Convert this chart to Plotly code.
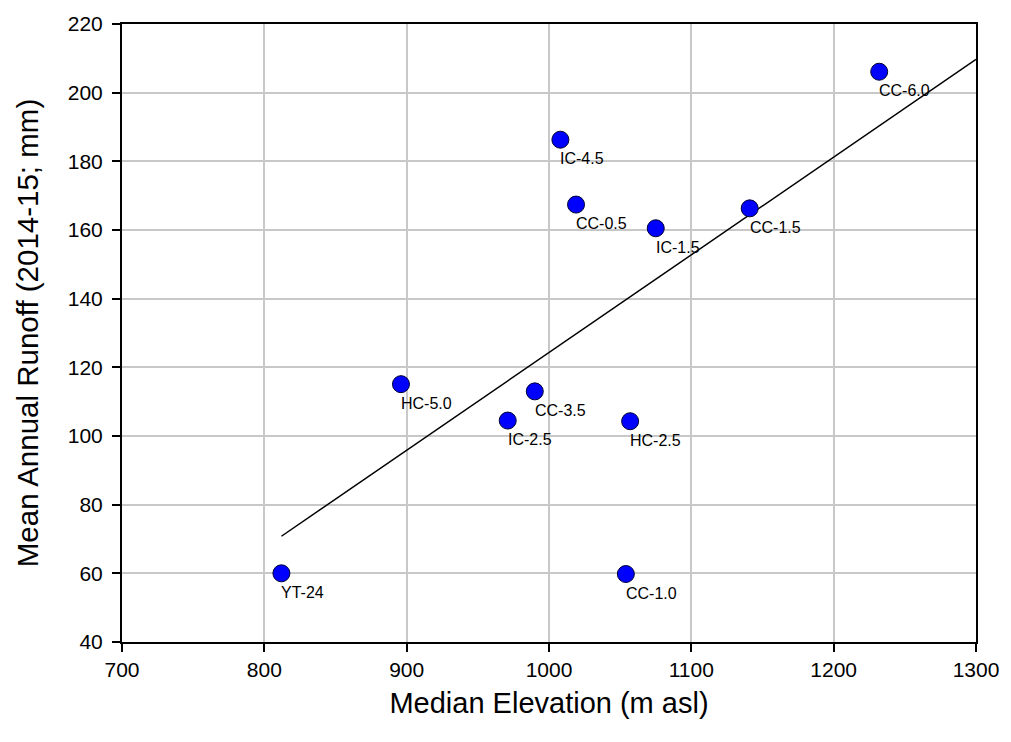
import plotly.graph_objects as go

sites = ["YT-24", "HC-5.0", "IC-2.5", "CC-3.5", "HC-2.5", "CC-1.0",
         "IC-4.5", "CC-0.5", "IC-1.5", "CC-1.5", "CC-6.0"]
elev = [812, 896, 971, 990, 1057, 1054, 1008, 1019, 1075, 1141, 1232]
runoff = [60.0, 115.1, 104.5, 113.0, 104.3, 59.8, 186.3, 167.4, 160.5, 166.3, 206.1]

fit_x = [812, 1300]
fit_y = [70.8, 209.7]

FONT = "Liberation Sans, Arial, sans-serif"

fig = go.Figure()
fig.add_trace(go.Scatter(x=fit_x, y=fit_y, mode="lines",
                         line=dict(color="black", width=1.5),
                         showlegend=False, hoverinfo="skip"))
fig.add_trace(go.Scatter(x=elev, y=runoff, mode="markers",
                         marker=dict(color="#0000ff", size=17,
                                     line=dict(color="#000033", width=1)),
                         showlegend=False, text=sites))

for s, x, y in zip(sites, elev, runoff):
    fig.add_annotation(x=x, y=y, text=s, showarrow=False,
                       xanchor="left", yanchor="middle",
                       xshift=-2, yshift=-19,
                       font=dict(family=FONT, size=16, color="black"))

axis_common = dict(showline=True, linecolor="black", linewidth=2, mirror=True,
                   ticks="outside", ticklen=8, tickwidth=2, tickcolor="black",
                   showgrid=True, gridcolor="#c8c8c8", gridwidth=1.5,
                   zeroline=False,
                   tickfont=dict(family=FONT, size=21, color="black"))

fig.update_xaxes(range=[700, 1300], tickvals=[700, 800, 900, 1000, 1100, 1200, 1300],
                 title=dict(text="Median Elevation (m asl)",
                            font=dict(family=FONT, size=29, color="black"),
                            standoff=12),
                 **axis_common)
fig.update_yaxes(range=[40, 220], tickvals=list(range(40, 221, 20)),
                 ticklabelstandoff=5,
                 title=dict(text="Mean Annual Runoff (2014-15; mm)",
                            font=dict(family=FONT, size=29.5, color="black"),
                            standoff=20),
                 **axis_common)

fig.update_layout(width=1011, height=742,
                  margin=dict(l=122, r=27, t=21, b=100),
                  plot_bgcolor="white", paper_bgcolor="white")

fig.write_html("out.html")
